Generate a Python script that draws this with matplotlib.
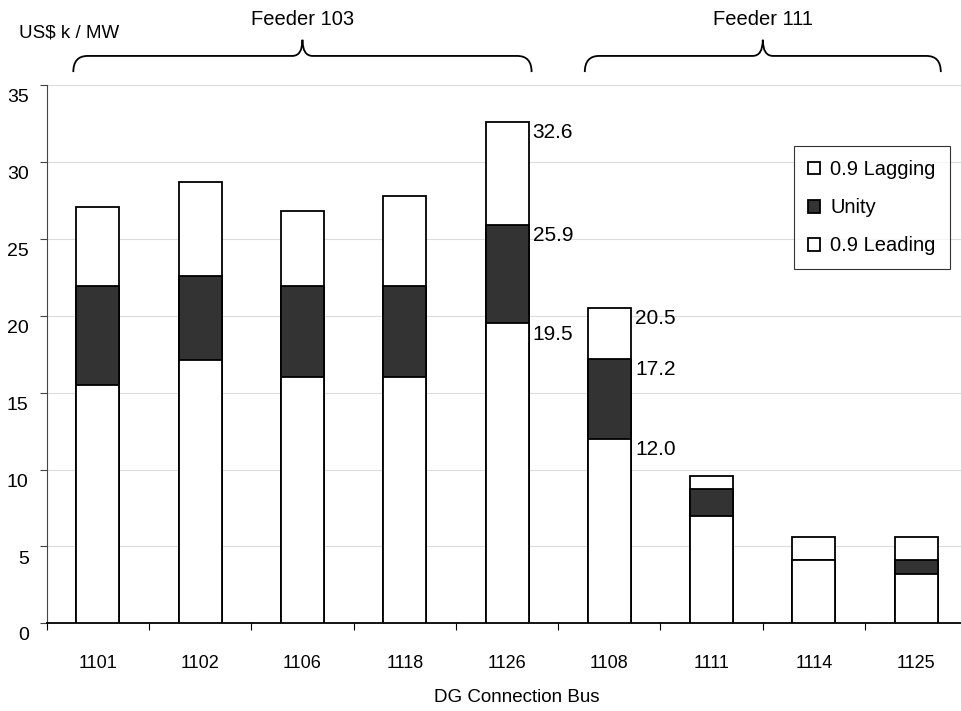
import matplotlib.pyplot as plt
from matplotlib.path import Path
from matplotlib.patches import PathPatch
from matplotlib.transforms import blended_transform_factory, ScaledTranslation

plt.rcParams['font.family'] = ['Liberation Sans', 'DejaVu Sans']

# Data (cumulative cost levels per connection bus)
buses = ['1101', '1102', '1106', '1118', '1126', '1108', '1111', '1114', '1125']
lagging = [27.1, 28.7, 26.8, 27.8, 32.6, 20.5, 9.6, 5.6, 5.6]
unity = [21.9, 22.6, 21.9, 21.9, 25.9, 17.2, 8.7, 4.1, 4.1]
leading = [15.5, 17.1, 16.0, 16.0, 19.5, 12.0, 7.0, 4.1, 3.2]
labelled = [4, 5]  # bars carrying value labels
feeders = [('Feeder 103', 0, 4), ('Feeder 111', 5, 8)]

fig = plt.figure(figsize=(9.62, 7.11), dpi=100)
ax = fig.add_axes([46.7 / 962, 87.7 / 711, 915.3 / 962, 538.3 / 711])

x = list(range(len(buses)))
w = 0.42
dark = '#333333'
ax.bar(x, lagging, width=w, color='white', edgecolor='black', linewidth=1.3, zorder=2, label='0.9 Lagging')
ax.bar(x, unity, width=w, color=dark, edgecolor='black', linewidth=1.3, zorder=3, label='Unity')
ax.bar(x, leading, width=w, color='white', edgecolor='black', linewidth=1.3, zorder=4, label='0.9 Leading')

for i in labelled:
    for v in (lagging[i], unity[i], leading[i]):
        ax.annotate(f'{v:.1f}', (x[i] + w / 2, v), xytext=(3, -1), textcoords='offset points',
                    ha='left', va='top', fontsize=15)

ax.set_xlim(-0.5, -0.5 + 915.3 / 102.3)
ax.set_ylim(0, 35)
ax.set_yticks(range(0, 36, 5))
ax.set_xticks(x)
ax.set_xticklabels(buses, fontsize=13)
ax.set_xticks([i - 0.5 for i in x], minor=True)
ax.tick_params(axis='x', which='major', length=0, pad=23)
ax.tick_params(axis='x', which='minor', length=5, width=0.8, direction='out')
ax.tick_params(axis='y', length=5, width=0.8, labelsize=14, pad=8, color='#444444')
shift = ScaledTranslation(0, -3 / 72, fig.dpi_scale_trans)
for t in ax.get_yticklabels():
    t.set_va('top')
    t.set_transform(t.get_transform() + shift)

ax.grid(axis='y', color='#dcdcdc', linewidth=0.8, zorder=0)
ax.set_axisbelow(True)
for s in ('top', 'right'):
    ax.spines[s].set_visible(False)
ax.spines['left'].set_color('#444444')
ax.spines['left'].set_linewidth(0.8)
ax.spines['bottom'].set_linewidth(1.3)

fig.text(19 / 962, 1 - 33 / 711, 'US$ k / MW', fontsize=13.5, ha='left', va='center')
fig.text(517 / 962, 1 - 698 / 711, 'DG Connection Bus', fontsize=13.5, ha='center', va='center')

# Curly braces over each feeder group
tr = blended_transform_factory(ax.transData, ax.transAxes)
y0, y1, y2 = 1.024, 1.054, 1.084
for name, a, b in feeders:
    xa = a - w / 2 - 0.03
    xb = b + w / 2 + 0.03
    mid = (xa + xb) / 2
    re, rt = 0.14, 0.1
    verts = [(xa, y0), (xa, y1), (xa + re, y1),
             (mid - rt, y1), (mid, y1), (mid, y2),
             (mid, y1), (mid + rt, y1),
             (xb - re, y1), (xb, y1), (xb, y0)]
    codes = [Path.MOVETO, Path.CURVE3, Path.CURVE3,
             Path.LINETO, Path.CURVE3, Path.CURVE3,
             Path.CURVE3, Path.CURVE3,
             Path.LINETO, Path.CURVE3, Path.CURVE3]
    ax.add_patch(PathPatch(Path(verts, codes), transform=tr, fill=False,
                           edgecolor='black', linewidth=1.3, clip_on=False))
    ax.text(mid, 1.121, name, transform=tr, ha='center', va='center', fontsize=14.5)

handles, labels = ax.get_legend_handles_labels()
leg = ax.legend(handles, labels, loc='upper left', bbox_to_anchor=(794 / 962, 1 - 146 / 711),
                bbox_transform=fig.transFigure, fontsize=14.5, frameon=True, fancybox=False,
                edgecolor='black', handlelength=0.6, handleheight=0.6, handletextpad=0.5,
                labelspacing=0.95, borderpad=0.7, borderaxespad=0)
leg.get_frame().set_linewidth(0.8)

fig.savefig('out.png', dpi=100)
